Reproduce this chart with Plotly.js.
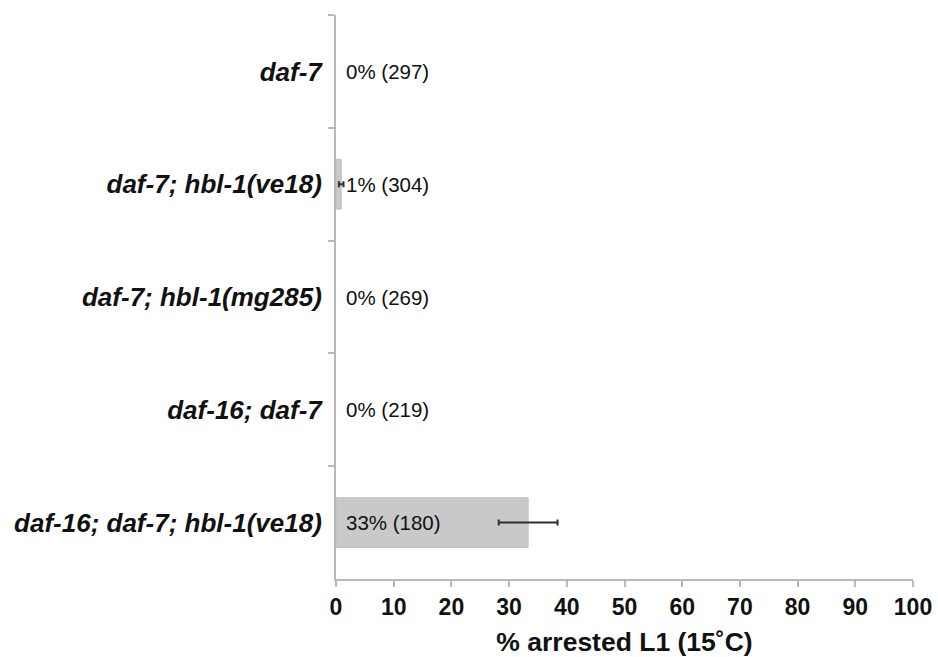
<!DOCTYPE html>
<html>
<head>
<meta charset="utf-8">
<script src="https://cdn.plot.ly/plotly-3.0.1.min.js"></script>
<style>html,body{margin:0;padding:0;background:#fff;}#chart{width:938px;height:657px;}</style>
</head>
<body>
<div id="chart"></div>
<script>
const strains = ["daf-7", "daf-7; hbl-1(ve18)", "daf-7; hbl-1(mg285)", "daf-16; daf-7", "daf-16; daf-7; hbl-1(ve18)"];
const arrestedPct = [0, 0.9, 0, 0, 33.3];
const errorPct = [null, 0.4, null, null, 5.1];
const pctLabels = ["0%", "1%", "0%", "0%", "33%"];
const nWorms = [297, 304, 269, 219, 180];
const xTickVals = [0, 10, 20, 30, 40, 50, 60, 70, 80, 90, 100];

const trace = {
  type: "bar",
  orientation: "h",
  y: strains,
  x: arrestedPct,
  width: 0.44,
  marker: {color: "#c9c9c9", line: {color: "#bfbfbf", width: arrestedPct.map(v => v > 0 ? 1 : 0)}},
  error_x: {type: "data", array: errorPct.map(e => (e === null ? NaN : e)), visible: true,
            color: "#2e2e2e", thickness: 2, width: 3},
  hoverinfo: "skip"
};

const annotations = strains.map((s, i) => ({
  x: 0, y: s, xref: "x", yref: "y",
  text: pctLabels[i] + " (" + nWorms[i] + ")",
  showarrow: false, xanchor: "left", yanchor: "middle", xshift: 8,
  font: {family: "Liberation Sans, Arial, sans-serif", size: 20.5, color: "#111"}
}));

const layout = {
  width: 938, height: 657,
  margin: {l: 336, r: 25, t: 15, b: 78},
  paper_bgcolor: "#fff", plot_bgcolor: "#fff",
  showlegend: false,
  bargap: 0.56,
  xaxis: {
    range: [0, 100], tickvals: xTickVals, ticktext: xTickVals.map(String),
    showgrid: false, zeroline: false,
    showline: true, linecolor: "#b8b8b8", linewidth: 2,
    ticks: "outside", ticklen: 6, tickwidth: 2, tickcolor: "#b8b8b8",
    tickfont: {family: "Liberation Sans, Arial, sans-serif", size: 23, color: "#111", weight: "bold"},
    title: {text: "% arrested L1 (15˚C)", standoff: 20,
      font: {family: "Liberation Sans, Arial, sans-serif", size: 26.5, color: "#111", weight: "bold"}},
    fixedrange: true
  },
  yaxis: {
    type: "category", categoryorder: "array", categoryarray: strains,
    autorange: "reversed",
    showgrid: false, zeroline: false,
    showline: true, linecolor: "#b8b8b8", linewidth: 2,
    ticks: "outside", tickson: "boundaries", ticklen: 6, tickwidth: 2, tickcolor: "#b8b8b8",
    ticklabelstandoff: 7,
    tickfont: {family: "Liberation Sans, Arial, sans-serif", size: 26, color: "#111", weight: "bold", style: "italic"},
    fixedrange: true
  },
  annotations: annotations
};

Plotly.newPlot("chart", [trace], layout, {displayModeBar: false, staticPlot: true});
</script>
</body>
</html>
